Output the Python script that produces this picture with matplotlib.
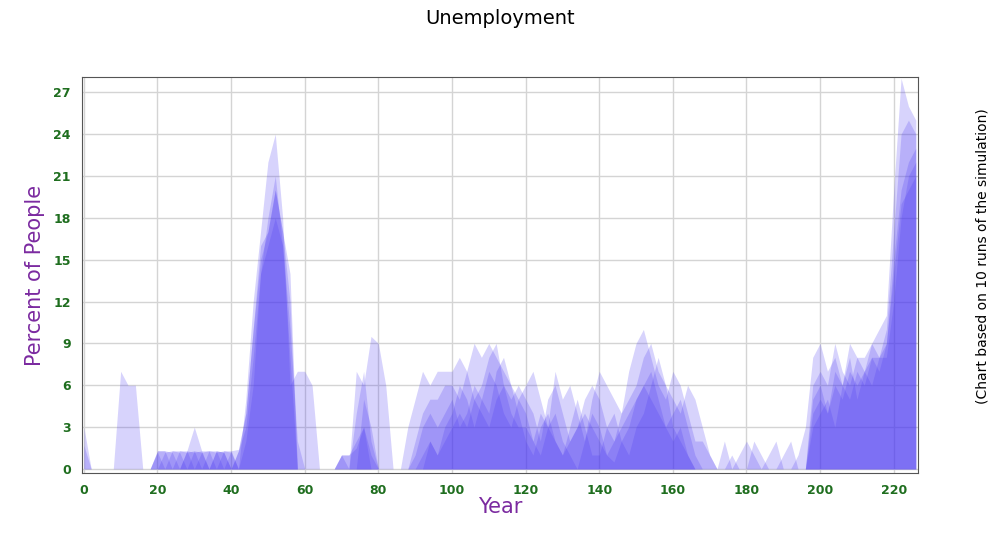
import matplotlib.pyplot as plt

# Years sampled every 2 years, 0..226
years = list(range(0, 228, 2))

run_a = [1.7, 0, 0, 0, 0, 0, 0, 0, 0, 0,
         0, 0, 1.3, 1.3, 1.2, 1.3, 1.2, 0, 1.3, 1.2,
         0, 1.3, 4, 10, 15, 17, 20, 17, 14, 0,
         0, 0, 0, 0, 0, 1, 1, 1.5, 3, 0,
         0, 0, 0, 0, 0, 1, 3, 4, 3, 4,
         5, 3, 4, 6, 5, 7, 6, 4, 3, 5,
         4, 2, 1, 3, 4, 2, 1, 0, 2, 4,
         3, 1, 0.5, 2, 3, 5, 6, 7, 5, 3,
         4, 5, 3, 1, 0, 0, 0, 0, 0, 0,
         0, 0, 0, 0, 0, 0, 0, 0, 0, 3,
         4, 5, 3, 6, 5, 7, 6, 8, 7, 9,
         15, 20, 22, 23]
run_b = [0, 0, 0, 0, 0, 0, 0, 0, 0, 0,
         1.2, 0, 0, 1.3, 1.3, 0, 1.2, 1.3, 0, 1.3,
         1.2, 0, 2, 6, 14, 16, 18, 16, 10, 2,
         0, 0, 0, 0, 0, 1, 0, 0, 5, 3,
         0, 0, 0, 0, 0, 0, 0, 2, 1, 3,
         4, 6, 5, 3, 5, 4, 7, 8, 6, 4,
         2, 1, 3, 4, 2, 1, 3, 5, 3, 1,
         1, 3, 4, 2, 1, 3, 4, 6, 8, 6,
         3, 2, 1, 0, 0, 0, 0, 0, 0, 0,
         0, 0, 0, 0, 0, 0, 0, 0, 0, 5,
         6, 4, 7, 6, 8, 5, 7, 6, 8, 8,
         12, 18, 21, 22]
run_c = [3, 0, 0, 0, 0, 7, 6, 6, 0, 0,
         1.3, 1.3, 0, 0, 1.3, 3, 1.3, 0, 1.3, 0,
         1.3, 0, 5, 12, 17, 22, 24, 18, 6, 7,
         7, 6, 0, 0, 0, 0, 0, 7, 6, 9.5,
         9, 6, 0, 0, 3, 5, 7, 6, 7, 7,
         7, 8, 7, 9, 8, 9, 8, 7, 6, 5,
         6, 7, 5, 3, 7, 5, 6, 4, 2, 5,
         7, 6, 5, 4, 7, 9, 10, 8, 6, 5,
         7, 6, 4, 2, 2, 1, 0, 2, 0, 1,
         2, 1, 0, 1, 2, 0, 0, 1, 3, 8,
         9, 7, 8, 6, 9, 8, 8, 9, 10, 11,
         20, 28, 26, 25]
run_d = [0, 0, 0, 0, 0, 0, 0, 0, 0, 0,
         0, 1.2, 1.3, 1.2, 0, 1.3, 0, 1.3, 1.3, 1.2,
         0, 1.3, 3, 8, 14, 18, 21, 16, 8, 0,
         0, 0, 0, 0, 0, 0, 0, 4, 7, 2,
         0, 0, 0, 0, 0, 2, 4, 5, 5, 6,
         6, 5, 7, 5, 6, 8, 9, 6, 5, 6,
         5, 4, 2, 5, 6, 4, 2, 3, 5, 6,
         5, 3, 2, 4, 5, 6, 8, 9, 7, 6,
         5, 4, 6, 5, 3, 1, 0, 0, 1, 0,
         0, 2, 1, 0, 0, 1, 2, 0, 0, 6,
         7, 6, 9, 7, 6, 8, 7, 9, 8, 10,
         17, 24, 25, 24]
run_e = [0, 0, 0, 0, 0, 0, 0, 0, 0, 0,
         1.3, 1.3, 1.2, 0, 1.3, 1.2, 1.3, 1.3, 1.2, 1.3,
         1.3, 1.4, 4, 10, 16, 17, 20, 17, 12, 0,
         0, 0, 0, 0, 0, 1, 1, 2, 3, 1,
         0, 0, 0, 0, 0, 0, 1, 2, 1, 2,
         3, 4, 3, 5, 4, 3, 5, 6, 4, 3,
         3, 2, 4, 3, 2, 1, 2, 3, 4, 3,
         2, 1, 2, 3, 4, 5, 6, 5, 4, 3,
         2, 3, 1, 0, 0, 0, 0, 0, 0, 0,
         0, 0, 0, 0, 0, 0, 0, 0, 0, 4,
         5, 4, 6, 5, 7, 6, 7, 8, 8, 9,
         14, 19, 20, 21]
runs = [run_c, run_d, run_b, run_a, run_e]

x_ticks = list(range(0, 240, 20))
y_ticks = list(range(0, 30, 3))

fig = plt.figure(figsize=(10, 5.34), dpi=100)
ax = fig.add_axes([0.082, 0.114, 0.836, 0.742])

for run in runs:
    ax.fill_between(years, 0, run, color="#4a38f2", alpha=0.22, linewidth=0)

ax.set_xlim(-0.5, 226.6)
ax.set_ylim(-0.3, 28.1)
ax.set_xticks(x_ticks)
ax.set_yticks(y_ticks)
ax.grid(True, color="#d4d4d4", linewidth=1)
ax.set_axisbelow(True)
ax.tick_params(length=0, labelsize=9, labelcolor="#1f6e1f", pad=8)
for lbl in ax.get_xticklabels() + ax.get_yticklabels():
    lbl.set_fontweight("bold")
for s in ax.spines.values():
    s.set_color("#555555")

ax.set_xlabel("Year", color="#7b2aa0", fontsize=15, labelpad=0)
ax.set_ylabel("Percent of People", color="#7b2aa0", fontsize=15, labelpad=6)
fig.text(0.5, 0.965, "Unemployment", ha="center", va="center", fontsize=14)
fig.text(0.982, 0.52, "(Chart based on 10 runs of the simulation)", rotation=90,
         ha="center", va="center", fontsize=10)

fig.savefig("out.png")
